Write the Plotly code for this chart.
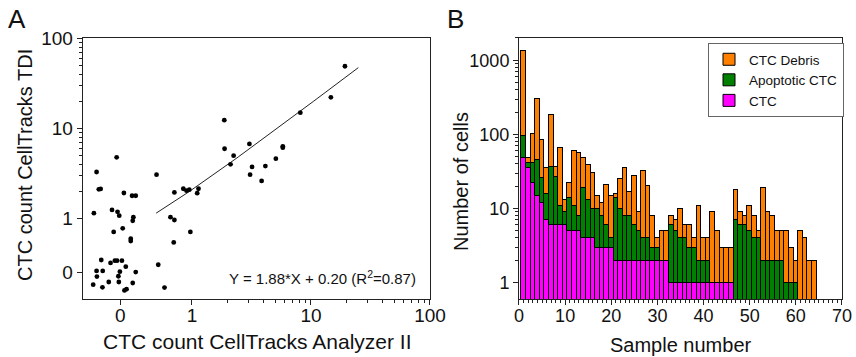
import numpy as np
import plotly.graph_objects as go

# ---------------- Panel A data (zero counts drawn at 0.25 with jitter, as in the figure)
analyzer_x = [0.233, 0.158, 0.165, 0.171, 0.268, 0.314, 0.337, 0.150, 0.213, 0.237,
              0.245, 0.318, 0.322, 0.220, 0.262, 0.306, 0.306, 0.173, 0.207, 0.225,
              0.235, 0.258, 0.278, 0.158, 0.178, 0.248, 0.337, 0.159, 0.241, 0.200,
              0.243, 0.318, 0.148, 0.177, 0.271, 0.282,
              0.504, 0.521, 0.588, 0.66, 0.712, 0.712, 0.846, 0.90, 0.95, 0.703,
              0.97, 1.107, 1.135,
              19.3, 14.7, 8.14, 1.87, 1.88, 3.04, 2.24, 2.11, 5.8, 5.8, 5.07,
              3.2, 4.14, 3.08, 3.85]
tdi_y = [4.76, 3.27, 2.10, 2.12, 1.91, 1.78, 1.78, 1.14, 1.24, 1.18,
         1.07, 0.94, 1.03, 0.705, 0.774, 0.593, 0.56, 0.344, 0.319, 0.338,
         0.338, 0.338, 0.29, 0.26, 0.26, 0.255, 0.253, 0.225, 0.227, 0.196,
         0.196, 0.191, 0.183, 0.171, 0.158, 0.163,
         3.05, 0.305, 0.17, 1.03, 0.958, 1.94, 2.13, 2.03, 2.08, 0.54,
         0.705, 1.9, 2.13,
         48.9, 22.1, 14.9, 12.3, 5.93, 6.7, 4.96, 3.98, 6.1, 6.3, 4.6,
         3.72, 3.81, 3.05, 2.6]
fit_slope = 1.88
fit_intercept = 0.20
fit_range = [0.5, 25]
a_ticks = [0.25, 1, 10, 100]
a_ticktext = ["0", "1", "10", "100"]
a_minor = [2, 3, 4, 5, 6, 7, 8, 9, 20, 30, 40, 50, 60, 70, 80, 90]

# ---------------- Panel B data
samples = list(range(1, 65))
ctc = [49, 36, 22, 15, 12, 7, 6, 6, 6, 6, 5, 5, 5, 4, 4, 4, 3, 3, 3, 3,
       2, 2, 2, 2, 2, 2, 2, 2, 2, 2, 2, 2,
       1, 1, 1, 1, 1, 1, 1, 1, 1, 1, 1, 1, 1, 1,
       0, 0, 0, 0, 0, 0, 0, 0, 0, 0, 0, 0, 0, 0, 0, 0, 0, 0]
apoptotic = [46, 6, 19, 31, 14, 9, 31, 21, 5, 3, 9, 6, 3, 15, 9, 6, 7, 5, 3, 1,
             12, 8, 6, 6, 4, 3, 2, 2, 1, 1, 0, 0,
             5, 4, 3, 3, 2, 2, 1, 1, 1, 0, 0, 0, 0, 0,
             7, 6, 6, 5, 4, 4, 2, 2, 2, 2, 2, 1, 1, 1, 0, 0, 0, 0]
debris = [1270, 7, 60, 260, 59, 20, 150, 10, 55, 4, 8, 50, 48, 30, 26, 20, 5, 4, 15, 11,
          2, 15, 28, 9, 22, 4, 28, 16, 5, 1, 3, 3,
          2, 2, 6, 2, 3, 1, 9, 2, 2, 8, 4, 2, 2, 2,
          11, 3, 2, 6, 4, 1, 17, 7, 6, 3, 3, 4, 2, 1, 5, 4, 2, 2]
b_ticks = [1, 10, 100, 1000]
b_minor = [2, 3, 4, 5, 6, 7, 8, 9, 20, 30, 40, 50, 60, 70, 80, 90,
           200, 300, 400, 500, 600, 700, 800, 900, 2000]

FONT = "Liberation Sans, Arial, sans-serif"
W, H = 856, 357
fig = go.Figure()

# Panel A
fit_x = np.geomspace(fit_range[0], fit_range[1], 60)
fig.add_trace(go.Scatter(x=fit_x, y=fit_slope * fit_x + fit_intercept, mode="lines",
                         line=dict(color="#222", width=1), showlegend=False,
                         xaxis="x", yaxis="y", hoverinfo="skip"))
fig.add_trace(go.Scatter(x=analyzer_x, y=tdi_y, mode="markers",
                         marker=dict(color="black", size=4.8), showlegend=False,
                         xaxis="x", yaxis="y"))

# Panel B
for name, vals, col in [("CTC", ctc, "#FF00FF"),
                        ("Apoptotic CTC", apoptotic, "#008000"),
                        ("CTC Debris", debris, "#FF8000")]:
    fig.add_trace(go.Bar(x=samples, y=vals, name=name, width=1,
                         marker=dict(color=col, line=dict(color="black", width=1)),
                         xaxis="x2", yaxis="y2"))


def axis_common(size):
    return dict(showline=True, linecolor="#222", linewidth=1, mirror=True,
                ticks="outside", tickcolor="#222", showgrid=False, zeroline=False,
                automargin=False,
                tickfont=dict(family=FONT, size=size, color="#111"))


def ann(text, x, y, size, angle=0, xanchor="center"):
    return dict(text=text, x=x / W, y=1 - y / H, xref="paper", yref="paper",
                xanchor=xanchor, yanchor="middle", textangle=angle, showarrow=False,
                font=dict(family=FONT, size=size, color="#111"))


fig.update_layout(
    width=W, height=H,
    margin=dict(l=0, r=0, t=0, b=0, pad=0, autoexpand=False),
    paper_bgcolor="white", plot_bgcolor="white",
    barmode="stack", bargap=0,
    font=dict(family=FONT, color="#111"),
    xaxis=dict(domain=[0.0966, 0.5023], anchor="y", type="log",
               range=[-0.918, 2.0], tickmode="array", tickvals=a_ticks, ticktext=a_ticktext,
               ticklen=5, ticklabelstandoff=-6,
               minor=dict(tickmode="array", tickvals=a_minor, ticks="outside", ticklen=3,
                          tickcolor="#222"),
               **axis_common(19)),
    yaxis=dict(domain=[0.1616, 0.8927], anchor="x", type="log",
               range=[-0.9, 2.0], tickmode="array", tickvals=a_ticks, ticktext=a_ticktext,
               ticklen=5,
               minor=dict(tickmode="array", tickvals=a_minor, ticks="outside", ticklen=3,
                          tickcolor="#222"),
               **axis_common(19)),
    xaxis2=dict(domain=[0.6063, 0.9836], anchor="y2", range=[0, 70],
                tickmode="linear", tick0=0, dtick=10, ticklen=5, ticklabelstandoff=-5,
                minor=dict(dtick=1, ticks="outside", ticklen=3, tickcolor="#222"),
                **axis_common(18)),
    yaxis2=dict(domain=[0.1625, 0.8944], anchor="x2", type="log",
                range=[np.log10(0.6), 3.305], tickmode="array", tickvals=b_ticks,
                ticktext=[str(t) for t in b_ticks], ticklen=5,
                minor=dict(tickmode="array", tickvals=b_minor, ticks="outside", ticklen=3,
                           tickcolor="#222"),
                **axis_common(18)),
    legend=dict(x=708 / W, y=1 - 43 / H, xanchor="left", yanchor="top",
                traceorder="reversed", bordercolor="#666", borderwidth=1,
                bgcolor="white", font=dict(family=FONT, size=13.5, color="#111"),
                tracegroupgap=0, itemwidth=30),
    annotations=[
        ann("A", 17, 19, 26),
        ann("B", 455, 19, 26),
        ann("CTC count CellTracks TDI", 25, 165, 20, angle=-90),
        ann("CTC count CellTracks Analyzer II", 257, 341, 21),
        ann("Number of cells", 461, 181, 20, angle=-90),
        ann("Sample number", 681, 345, 20),
        ann("Y = 1.88*X + 0.20 (R<sup>2</sup>=0.87)", 418, 277, 15, xanchor="right"),
    ],
)

fig.write_html("out.html")
